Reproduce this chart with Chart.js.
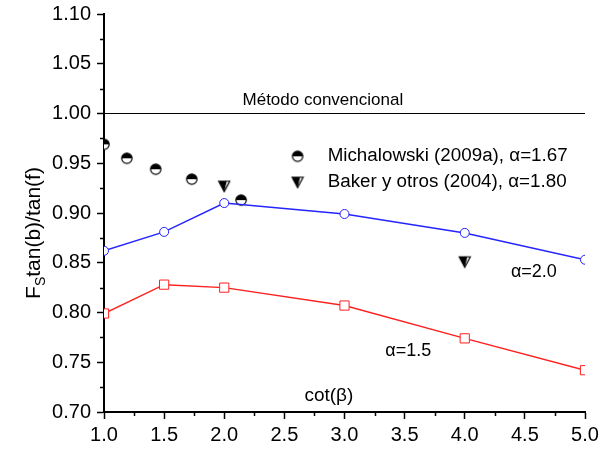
<!DOCTYPE html>
<html>
<head>
<meta charset="utf-8">
<script src="https://cdn.jsdelivr.net/npm/chart.js@4/dist/chart.umd.min.js"></script>
<style>
	body { margin: 0; background: #fff; }
</style>
</head>
<body>
<canvas id="chart" width="608" height="450"></canvas>
<script>
// values
var cotBeta = [1.0, 1.5, 2.0, 3.0, 4.0, 5.0];
var alpha20 = [0.862, 0.881, 0.910, 0.899, 0.880, 0.853];
var alpha15 = [0.799, 0.828, 0.825, 0.807, 0.774, 0.742];
var michX = [1.0, 1.19, 1.43, 1.73, 2.14];
var michY = [0.969, 0.955, 0.944, 0.934, 0.913];
var bakerX = [2.0, 4.0];
var bakerY = [0.927, 0.851];
var convX = [1.0, 5.0];
var convY = [1.0, 1.0];

var FONT = "'Liberation Sans', Arial, sans-serif";

function pairs(xs, ys) {
	return xs.map(function (x, i) { return { x: x, y: ys[i] }; });
}

// half filled circle marker
function halfCircle() {
	var c = document.createElement("canvas");
	c.width = 14; c.height = 14;
	var g = c.getContext("2d");
	g.fillStyle = "#fff";
	g.beginPath(); g.arc(7, 7, 5.2, 0, Math.PI * 2); g.fill();
	g.fillStyle = "#000";
	g.beginPath(); g.arc(7, 7, 5.2, Math.PI, Math.PI * 2); g.closePath(); g.fill();
	g.strokeStyle = "#000"; g.lineWidth = 1.2;
	g.beginPath(); g.arc(7, 7, 5.2, 0, Math.PI * 2); g.stroke();
	return c;
}

// down triangle, mostly black
function halfTriangle() {
	var c = document.createElement("canvas");
	c.width = 14; c.height = 14;
	var g = c.getContext("2d");
	g.fillStyle = "#fff";
	g.beginPath(); g.moveTo(1.5, 2); g.lineTo(12.5, 2); g.lineTo(7, 12.5); g.closePath(); g.fill();
	g.fillStyle = "#000";
	g.beginPath(); g.moveTo(1.5, 2); g.lineTo(9.5, 2); g.lineTo(7, 12.5); g.closePath(); g.fill();
	g.strokeStyle = "#000"; g.lineWidth = 1.2;
	g.beginPath(); g.moveTo(1.5, 2); g.lineTo(12.5, 2); g.lineTo(7, 12.5); g.closePath(); g.stroke();
	return c;
}

var circleMark = halfCircle();
var triMark = halfTriangle();

var extras = {
	id: "extras",
	afterDraw: function (chart) {
		var ctx = chart.ctx;
		var xs = chart.scales.x, ys = chart.scales.y;
		var area = chart.chartArea;
		ctx.save();
		// minor ticks
		ctx.strokeStyle = "#000";
		ctx.lineWidth = 1.5;
		ctx.beginPath();
		for (var v = 1.25; v < 5; v += 0.5) {
			var px = Math.round(xs.getPixelForValue(v)) + 0.5;
			ctx.moveTo(px, area.bottom); ctx.lineTo(px, area.bottom + 4);
		}
		for (var w = 0.725; w < 1.1; w += 0.05) {
			var py = Math.round(ys.getPixelForValue(w)) + 0.5;
			ctx.moveTo(area.left, py); ctx.lineTo(area.left - 4, py);
		}
		ctx.stroke();

		function text(str, x, y, size, align) {
			ctx.font = size + "px " + FONT;
			ctx.textAlign = align || "center";
			ctx.textBaseline = "middle";
			ctx.fillStyle = "#000";
			ctx.fillText(str, xs.getPixelForValue(x), ys.getPixelForValue(y));
		}
		text("Método convencional", 2.82, 1.013, 17);
		text("α=2.0", 4.575, 0.841, 18);
		text("α=1.5", 3.53, 0.761, 18);
		text("cot(β)", 2.87, 0.716, 19);

		// legend
		var lx = xs.getPixelForValue(2.61);
		ctx.drawImage(circleMark, lx - 7, ys.getPixelForValue(0.957) - 7);
		ctx.drawImage(triMark, lx - 7, ys.getPixelForValue(0.931) - 7);
		text("Michalowski (2009a), α=1.67", 2.86, 0.957, 18.8, "left");
		text("Baker y otros (2004), α=1.80", 2.86, 0.931, 18.8, "left");

		// y axis title with subscript
		ctx.translate(40, 233);
		ctx.rotate(-Math.PI / 2);
		ctx.textAlign = "left";
		ctx.textBaseline = "alphabetic";
		ctx.font = "21px " + FONT;
		var wF = ctx.measureText("F").width;
		var wR = ctx.measureText("tan(b)/tan(f)").width;
		ctx.font = "14px " + FONT;
		var wS = ctx.measureText("S").width;
		var x0 = -(wF + wS + wR) / 2;
		ctx.font = "21px " + FONT;
		ctx.fillText("F", x0, 0);
		ctx.font = "14px " + FONT;
		ctx.fillText("S", x0 + wF, 5);
		ctx.font = "21px " + FONT;
		ctx.fillText("tan(b)/tan(f)", x0 + wF + wS, 0);
		ctx.restore();
	}
};

Chart.defaults.font.family = FONT;
Chart.defaults.color = "#000";

new Chart(document.getElementById("chart"), {
	type: "scatter",
	data: {
		datasets: [
			{
				data: pairs(convX, convY),
				showLine: true,
				borderColor: "#000",
				borderWidth: 1,
				pointRadius: 0
			},
			{
				data: pairs(cotBeta, alpha20),
				showLine: true,
				borderColor: "#2424ff",
				borderWidth: 1.5,
				pointStyle: "circle",
				pointRadius: 4.5,
				pointBackgroundColor: "#fff",
				pointBorderColor: "#2424ff",
				pointBorderWidth: 1
			},
			{
				data: pairs(cotBeta, alpha15),
				showLine: true,
				borderColor: "#ff2020",
				borderWidth: 1.5,
				pointStyle: "rect",
				pointRadius: 6.5,
				pointBackgroundColor: "#fff",
				pointBorderColor: "#ff2020",
				pointBorderWidth: 1
			},
			{
				data: pairs(michX, michY),
				pointStyle: circleMark
			},
			{
				data: pairs(bakerX, bakerY),
				pointStyle: triMark
			}
		]
	},
	options: {
		responsive: false,
		animation: false,
		events: [],
		layout: { padding: { top: 14, right: 23, left: 0, bottom: 0 } },
		plugins: {
			legend: { display: false },
			tooltip: { enabled: false }
		},
		scales: {
			x: {
				type: "linear",
				min: 1, max: 5,
				afterFit: function (s) { s.height = 38; s.paddingLeft = 0; s.paddingRight = 0; },
				border: { display: true, color: "#000", width: 2 },
				grid: { drawOnChartArea: false, drawTicks: true, tickLength: 7, tickWidth: 1.5, tickColor: "#000" },
				ticks: {
					stepSize: 0.5,
					padding: 4,
					font: { size: 20 },
					callback: function (v) { return v.toFixed(1); }
				}
			},
			y: {
				type: "linear",
				min: 0.7, max: 1.1,
				afterFit: function (s) { s.width = 104; s.paddingTop = 0; s.paddingBottom = 0; },
				border: { display: true, color: "#000", width: 2 },
				grid: { drawOnChartArea: false, drawTicks: true, tickLength: 7, tickWidth: 1.5, tickColor: "#000" },
				ticks: {
					stepSize: 0.05,
					padding: 6,
					font: { size: 20 },
					callback: function (v) { return v.toFixed(2); }
				}
			}
		}
	},
	plugins: [extras]
});
</script>
</body>
</html>
